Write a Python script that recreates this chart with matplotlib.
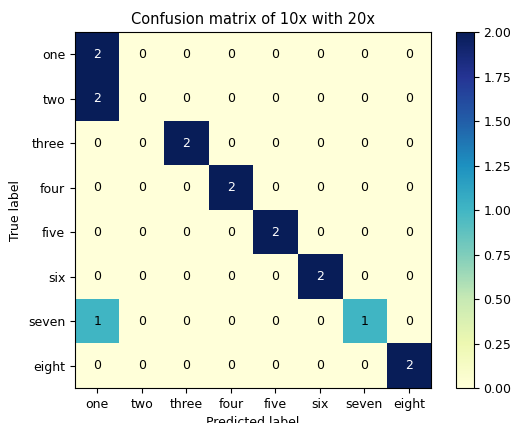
import numpy as np
import matplotlib
matplotlib.use("Agg")
import matplotlib.pyplot as plt

classes = ["one", "two", "three", "four", "five", "six", "seven", "eight"]
cm = np.array([
    [2, 0, 0, 0, 0, 0, 0, 0],
    [2, 0, 0, 0, 0, 0, 0, 0],
    [0, 0, 2, 0, 0, 0, 0, 0],
    [0, 0, 0, 2, 0, 0, 0, 0],
    [0, 0, 0, 0, 2, 0, 0, 0],
    [0, 0, 0, 0, 0, 2, 0, 0],
    [1, 0, 0, 0, 0, 0, 1, 0],
    [0, 0, 0, 0, 0, 0, 0, 2],
])
title = "Confusion matrix of 10x with 20x"

fig = plt.figure(figsize=(5.11, 4.23), dpi=100)
ax = fig.add_axes([0.1468, 0.0827, 0.6967, 0.8416])
cax = fig.add_axes([0.892, 0.0827, 0.0352, 0.8416])
im = ax.imshow(cm, interpolation="nearest", cmap="YlGnBu", aspect="auto")
cb = fig.colorbar(im, cax=cax)
cb.set_ticks(np.arange(0, 2.01, 0.25))
cb.ax.tick_params(labelsize=9)
ax.set_title(title, fontsize=10.5)
ax.set_xticks(np.arange(len(classes)))
ax.set_xticklabels(classes, fontsize=9)
ax.set_yticks(np.arange(len(classes)))
ax.set_yticklabels(classes, fontsize=9)
thresh = cm.max() / 2.0
for i in range(cm.shape[0]):
    for j in range(cm.shape[1]):
        ax.text(j, i, format(cm[i, j], "d"), ha="center", va="center",
                fontsize=9, color="white" if cm[i, j] > thresh else "black")
ax.set_ylabel("True label", fontsize=9)
ax.set_xlabel("Predicted label", fontsize=9)
fig.savefig("out.png", dpi=100)
